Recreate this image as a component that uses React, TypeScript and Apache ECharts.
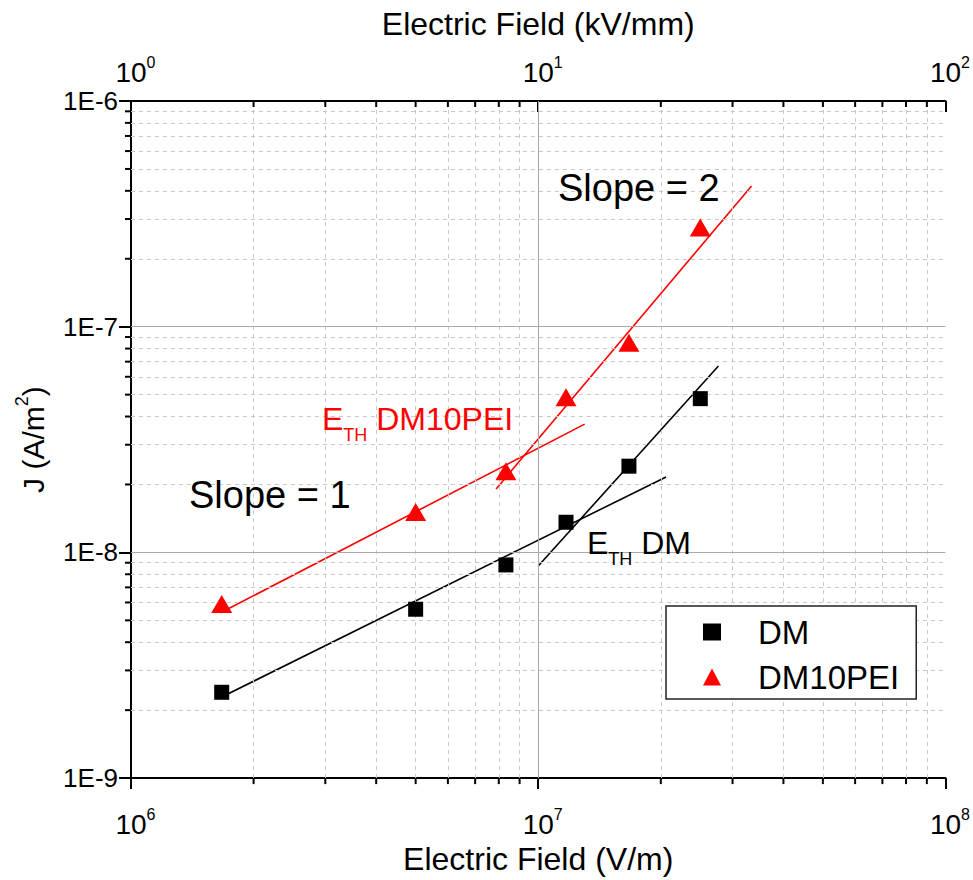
import React, { useEffect, useRef } from "react";
import * as echarts from "echarts";

// ---- data ----
const fieldDM = [1.67e6, 5e6, 8.33e6, 1.17e7, 1.67e7, 2.5e7];
const jDM = [2.4e-9, 5.6e-9, 8.8e-9, 1.36e-8, 2.41e-8, 4.8e-8];
const fieldPEI = [1.67e6, 5e6, 8.33e6, 1.17e7, 1.67e7, 2.5e7];
const jPEI = [5.9e-9, 1.51e-8, 2.29e-8, 4.87e-8, 8.5e-8, 2.75e-7];

// fitted lines (end points)
const fitDMLow = [[1.68e6, 2.3e-9], [2.06e7, 2.16e-8]];
const fitDMHigh = [[1.0e7, 8.7e-9], [2.77e7, 6.7e-8]];
const fitPEILow = [[1.66e6, 5.4e-9], [1.3e7, 3.7e-8]];
const fitPEIHigh = [[7.88e6, 1.91e-8], [3.34e7, 4.2e-7]];

const seriesNames = ["DM", "DM10PEI"];
const xDecades = [1e6, 1e7];
const topDecades = [1, 10];
const yDecades = [1e-9, 1e-8, 1e-7];
const xMajorGrid = [1e7];
const yMajorGrid = [1e-8, 1e-7];
const minorSteps = [2, 3, 4, 5, 6, 7, 8, 9];

const FONT = "'Liberation Sans', Arial, sans-serif";

const minorOf = (decades: number[]) =>
  decades.flatMap((d) => minorSteps.map((k) => k * d));

const supFormatter = (v: number) => `{b|10}{s|${Math.round(Math.log10(v))}}`;
const supRich = {
  b: { fontSize: 28, color: "#000", fontFamily: FONT, padding: [0, 0, 0, 9] },
  s: { fontSize: 16, color: "#000", fontFamily: FONT, padding: [0, 0, 20, 0] },
};

// direction codes for minor ticks: 0 = down from point, 1 = left of point
const tickRender = (params: any, api: any) => {
  const p = api.coord([api.value(0), api.value(1)]);
  const dir = api.value(2);
  const shape =
    dir === 1
      ? { x: p[0] - 6, y: p[1] - 1, width: 6, height: 2 }
      : { x: p[0] - 1, y: p[1], width: 2, height: 6 };
  return { type: "rect", shape, style: { fill: "#000" } };
};

export default function App() {
  const ref = useRef<HTMLDivElement>(null);
  useEffect(() => {
    if (!ref.current) return;
    const chart = echarts.init(ref.current, null, { renderer: "svg" });

    const gridData = [
      ...minorOf(xDecades).map((v) => ({ xAxis: v, lineStyle: { color: "#c8c8c8", type: [4, 4], width: 1 } })),
      ...minorOf(yDecades).map((v) => ({ yAxis: v, lineStyle: { color: "#c8c8c8", type: [4, 4], width: 1 } })),
      ...xMajorGrid.map((v) => ({ xAxis: v, lineStyle: { color: "#a8a8a8", type: "solid", width: 1 } })),
      ...yMajorGrid.map((v) => ({ yAxis: v, lineStyle: { color: "#a8a8a8", type: "solid", width: 1 } })),
    ];

    const fitLine = (name: string, data: number[][], color: string) => ({
      name,
      type: "line",
      data,
      showSymbol: false,
      symbol: "none",
      lineStyle: { color, width: 1.6 },
      z: 3,
      silent: true,
    });

    const bottomTicks = minorOf(xDecades).map((v) => [v, 1e-9, 0]);
    const leftTicks = minorOf(yDecades).map((v) => [1e6, v, 1]);
    const topTicks = minorOf(topDecades).map((v) => [v, 1e-6, 0]);

    const option: any = {
      animation: false,
      textStyle: { fontFamily: FONT },
      grid: { left: 131, right: 23, top: 101, bottom: 101, containLabel: false },
      legend: {
        data: seriesNames,
        orient: "vertical",
        left: 666,
        top: 606,
        padding: [8, 17, 4, 37],
        itemWidth: 18,
        itemHeight: 17,
        itemGap: 9,
        borderColor: "#222",
        borderWidth: 1.5,
        backgroundColor: "#fff",
        textStyle: { fontSize: 33, color: "#000", fontFamily: FONT, lineHeight: 36, padding: [0, 0, 0, 32] },
        z: 10,
      },
      xAxis: [
        {
          type: "log",
          logBase: 10,
          min: 1e6,
          max: 1e8,
          position: "bottom",
          name: "Electric Field (V/m)",
          nameLocation: "middle",
          nameGap: 64,
          nameTextStyle: { fontSize: 32, color: "#000", fontFamily: FONT },
          axisLine: { show: true, onZero: false, lineStyle: { color: "#000", width: 2 } },
          axisTick: { show: true, length: 11, lineStyle: { color: "#000", width: 2 } },
          axisLabel: { formatter: supFormatter, rich: supRich, fontSize: 28, margin: 28 },
          splitLine: { show: false },
        },
        {
          type: "log",
          logBase: 10,
          min: 1,
          max: 100,
          position: "top",
          name: "Electric Field (kV/mm)",
          nameLocation: "middle",
          nameGap: 61,
          nameTextStyle: { fontSize: 32, color: "#000", fontFamily: FONT },
          axisLine: { show: true, onZero: false, lineStyle: { color: "#000", width: 2 } },
          axisTick: { show: true, inside: true, length: 11, lineStyle: { color: "#000", width: 2 } },
          axisLabel: { formatter: supFormatter, rich: supRich, fontSize: 28, margin: 11 },
          splitLine: { show: false },
        },
      ],
      yAxis: [
        {
          type: "log",
          logBase: 10,
          min: 1e-9,
          max: 1e-6,
          name: "{n|J (A/m}{s|2}{n|)}",
          nameLocation: "middle",
          nameGap: 78,
          nameRotate: 90,
          nameTextStyle: {
            rich: {
              n: { fontSize: 30, color: "#000", fontFamily: FONT },
              s: { fontSize: 18, color: "#000", fontFamily: FONT, padding: [0, 0, 22, 0] },
            },
          },
          axisLine: { show: true, onZero: false, lineStyle: { color: "#000", width: 2 } },
          axisTick: { show: true, length: 12, lineStyle: { color: "#000", width: 2 } },
          axisLabel: {
            formatter: (v: number) => `1E${Math.round(Math.log10(v))}`,
            fontSize: 26,
            color: "#000",
            margin: 13,
            fontFamily: FONT,
          },
          splitLine: { show: false },
        },
      ],
      series: [
        {
          name: "grid",
          type: "scatter",
          data: [],
          silent: true,
          z: 1,
          markLine: {
            silent: true,
            precision: 20,
            symbol: ["none", "none"],
            label: { show: false },
            animation: false,
            data: gridData,
          },
        },
        {
          name: "minorTicks",
          type: "custom",
          xAxisIndex: 0,
          yAxisIndex: 0,
          clip: false,
          silent: true,
          z: 10,
          renderItem: tickRender,
          encode: { x: 0, y: 1 },
          data: [...bottomTicks, ...leftTicks],
        },
        {
          name: "minorTicksTop",
          type: "custom",
          xAxisIndex: 1,
          yAxisIndex: 0,
          clip: false,
          silent: true,
          z: 10,
          renderItem: tickRender,
          encode: { x: 0, y: 1 },
          data: topTicks,
        },
        fitLine("fitDMLow", fitDMLow, "#000"),
        fitLine("fitDMHigh", fitDMHigh, "#000"),
        fitLine("fitPEILow", fitPEILow, "#ff0000"),
        fitLine("fitPEIHigh", fitPEIHigh, "#ff0000"),
        {
          name: seriesNames[0],
          type: "scatter",
          symbol: "rect",
          symbolSize: 15,
          itemStyle: { color: "#000", opacity: 1 },
          data: fieldDM.map((x, i) => [x, jDM[i]]),
          z: 5,
        },
        {
          name: seriesNames[1],
          type: "scatter",
          symbol: "triangle",
          symbolSize: [21, 18],
          itemStyle: { color: "#ff0000", opacity: 1 },
          data: fieldPEI.map((x, i) => [x, jPEI[i]]),
          z: 5,
        },
      ],
      graphic: [
        {
          type: "text",
          x: 558,
          y: 188,
          silent: true,
          z: 10,
          style: { text: "Slope = 2", fontSize: 38, fontFamily: FONT, fill: "#000", align: "left", verticalAlign: "middle" },
        },
        {
          type: "text",
          x: 189,
          y: 495,
          silent: true,
          z: 10,
          style: { text: "Slope = 1", fontSize: 38, fontFamily: FONT, fill: "#000", align: "left", verticalAlign: "middle" },
        },
        {
          type: "text",
          x: 322,
          y: 419,
          silent: true,
          z: 10,
          style: {
            text: "{e|E}{t|TH}{e| DM10PEI}",
            align: "left",
            verticalAlign: "middle",
            rich: {
              e: { fontSize: 32, fontFamily: FONT, fill: "#ff0000", color: "#ff0000" },
              t: { fontSize: 18, fontFamily: FONT, fill: "#ff0000", color: "#ff0000", padding: [32, 0, 0, 0] },
            },
          },
        },
        {
          type: "text",
          x: 587,
          y: 543,
          silent: true,
          z: 10,
          style: {
            text: "{e|E}{t|TH}{e| DM}",
            align: "left",
            verticalAlign: "middle",
            rich: {
              e: { fontSize: 32, fontFamily: FONT, fill: "#000", color: "#000" },
              t: { fontSize: 18, fontFamily: FONT, fill: "#000", color: "#000", padding: [32, 0, 0, 0] },
            },
          },
        },
      ],
    };

    chart.setOption(option);

    return () => chart.dispose();
  }, []);

  return (
    <div
      ref={ref}
      style={{ position: "fixed", left: 0, top: 0, width: 973, height: 880, background: "#fff" }}
    />
  );
}
